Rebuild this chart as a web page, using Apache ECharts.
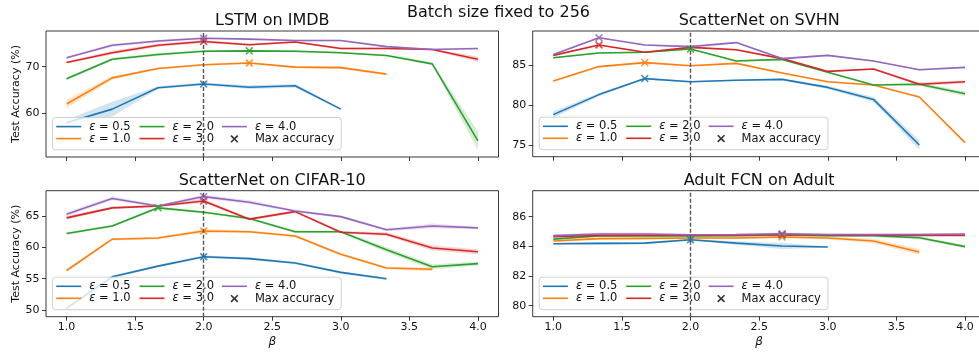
<!DOCTYPE html>
<html>
<head>
<meta charset="utf-8">
<script src="https://cdn.jsdelivr.net/npm/echarts@6/dist/echarts.min.js"></script>
<style>
  html, body { margin: 0; padding: 0; background: #fff; }
  #chart { width: 979px; height: 354px; }
</style>
</head>
<body>
<div id="chart"></div>
<script>
// beta values (x) shared by every panel
const betas = [1.0, 1.333, 1.667, 2.0, 2.333, 2.667, 3.0, 3.333, 3.667, 4.0]
const epsNames = ['ε = 0.5', 'ε = 1.0', 'ε = 2.0', 'ε = 3.0', 'ε = 4.0']
const xTicks = [1.0, 1.5, 2.0, 2.5, 3.0, 3.5, 4.0]
const refBeta = 2.0

// LSTM on IMDB
const imdbAcc = [
  [58.0, 60.9, 65.5, 66.3, 65.6, 65.9, 60.9, null, null, null],
  [62.0, 67.6, 69.6, 70.4, 70.8, 69.9, 69.8, 68.4, null, null],
  [67.4, 71.6, 72.6, 73.3, 73.4, 73.3, 73.0, 72.4, 70.6, 54.1],
  [70.9, 73.0, 74.6, 75.4, 74.7, 75.3, 73.9, 73.9, 73.7, 71.6],
  [71.9, 74.6, 75.5, 76.1, 75.9, 75.6, 75.6, 74.3, 73.7, 73.9]
]
const imdbStd = [
  [0.6, 1.6, 0.3, 0.3, 0.4, 0.4, 0.2],
  [0.9, 0.4, 0.2, 0.2, 0.2, 0.2, 0.3, 0.2],
  [0.3, 0.3, 0.3, 0.2, 0.2, 0.2, 0.2, 0.2, 0.3, 2.0],
  [0.2, 0.4, 0.3, 0.3, 0.2, 0.2, 0.2, 0.2, 0.2, 0.6],
  [0.2, 0.3, 0.3, 0.2, 0.2, 0.2, 0.2, 0.2, 0.2, 0.2]
]
const imdbTicks = [60, 70]

// ScatterNet on SVHN
const svhnAcc = [
  [78.8, 81.3, 83.3, 82.9, 83.1, 83.2, 82.2, 80.7, 75.0, null],
  [83.0, 84.8, 85.3, 84.9, 85.2, 84.0, 82.9, 82.5, 81.0, 75.3],
  [85.9, 86.5, 86.6, 87.0, 85.5, 85.7, 84.1, 82.5, 82.6, 81.4],
  [86.2, 87.5, 86.6, 87.2, 86.9, 85.8, 84.2, 84.5, 82.6, 82.9],
  [86.3, 88.4, 87.5, 87.3, 87.8, 85.8, 86.2, 85.5, 84.4, 84.7]
]
const svhnStd = [
  [0.4, 0.2, 0.1, 0.1, 0.1, 0.1, 0.2, 0.3, 0.6],
  [0.1, 0.1, 0.1, 0.1, 0.1, 0.1, 0.1, 0.1, 0.1, 0.1],
  [0.1, 0.1, 0.1, 0.1, 0.1, 0.1, 0.1, 0.1, 0.2, 0.3],
  [0.1, 0.1, 0.1, 0.1, 0.1, 0.1, 0.1, 0.1, 0.2, 0.2],
  [0.1, 0.1, 0.1, 0.1, 0.1, 0.1, 0.1, 0.1, 0.1, 0.1]
]
const svhnTicks = [75, 80, 85]

// ScatterNet on CIFAR-10
const cifarAcc = [
  [50.3, 55.3, 57.0, 58.5, 58.2, 57.5, 56.0, 55.0, null, null],
  [56.3, 61.3, 61.5, 62.6, 62.5, 61.8, 58.9, 56.7, 56.5, null],
  [62.2, 63.4, 66.3, 65.6, 64.6, 62.5, 62.5, 59.6, 56.9, 57.4],
  [64.7, 66.3, 66.6, 67.4, 64.5, 65.7, 62.4, 62.1, 59.9, 59.3],
  [65.3, 67.8, 66.6, 68.1, 67.2, 65.8, 64.9, 62.8, 63.4, 63.1]
]
const cifarStd = [
  [0.3, 0.2, 0.2, 0.2, 0.2, 0.2, 0.2, 0.2],
  [0.2, 0.2, 0.2, 0.3, 0.2, 0.2, 0.2, 0.2, 0.3],
  [0.2, 0.2, 0.2, 0.2, 0.2, 0.2, 0.2, 0.4, 0.4, 0.3],
  [0.3, 0.2, 0.2, 0.3, 0.2, 0.2, 0.2, 0.3, 0.4, 0.4],
  [0.3, 0.3, 0.2, 0.3, 0.3, 0.2, 0.2, 0.2, 0.4, 0.2]
]
const cifarTicks = [50, 55, 60, 65]

// Adult FCN on Adult
const adultAcc = [
  [84.18, 84.20, 84.22, 84.45, 84.22, 84.02, 83.96, null, null, null],
  [84.36, 84.52, 84.54, 84.56, 84.56, 84.63, 84.56, 84.36, 83.62, null],
  [84.49, 84.70, 84.70, 84.70, 84.72, 84.76, 84.72, 84.72, 84.58, 83.98],
  [84.65, 84.74, 84.75, 84.75, 84.75, 84.80, 84.76, 84.75, 84.74, 84.74],
  [84.72, 84.83, 84.83, 84.78, 84.80, 84.85, 84.80, 84.80, 84.80, 84.83]
]
const adultStd = [
  [0.05, 0.1, 0.08, 0.05, 0.12, 0.2, 0.05],
  [0.08, 0.08, 0.08, 0.08, 0.08, 0.08, 0.1, 0.15, 0.2],
  [0.05, 0.05, 0.05, 0.05, 0.05, 0.05, 0.08, 0.1, 0.1, 0.1],
  [0.05, 0.08, 0.08, 0.05, 0.05, 0.08, 0.08, 0.05, 0.05, 0.05],
  [0.08, 0.1, 0.1, 0.05, 0.05, 0.1, 0.05, 0.05, 0.08, 0.08]
]
const adultTicks = [80, 82, 84, 86]

const colors = ['#1f77b4', '#ff7f0e', '#2ca02c', '#d62728', '#9467bd']
const font = 'DejaVu Sans'
const ink = '#111'
// x marker as a filled cross, so it works as a symbol and as a legend icon
const crossPath = 'path://M0,1.5L1.5,0L5,3.5L8.5,0L10,1.5L6.5,5L10,8.5L8.5,10L5,6.5L1.5,10L0,8.5L3.5,5Z'
const crossIcon = 'path://M-3,-3L-2.99,-3L-3,-2.99ZM13,13L12.99,13L13,12.99ZM0,1.5L1.5,0L5,3.5L8.5,0L10,1.5L6.5,5L10,8.5L8.5,10L5,6.5L1.5,10L0,8.5L3.5,5Z'
const lineIcon = 'path://M0,0L25,0L25,1.6L0,1.6Z'

const panels = [
  { title: 'LSTM on IMDB', acc: imdbAcc, std: imdbStd, ticks: imdbTicks, yMin: 50.64, yMax: 77.65,
    left: 46, top: 31, width: 452.5, height: 126, bottomRow: false, leftCol: true },
  { title: 'ScatterNet on SVHN', acc: svhnAcc, std: svhnStd, ticks: svhnTicks, yMin: 73.54, yMax: 89.25,
    left: 532.7, top: 31, width: 452.9, height: 125.7, bottomRow: false, leftCol: false },
  { title: 'ScatterNet on CIFAR-10', acc: cifarAcc, std: cifarStd, ticks: cifarTicks, yMin: 48.93, yMax: 69.04,
    left: 46, top: 190.7, width: 452.5, height: 126, bottomRow: true, leftCol: true },
  { title: 'Adult FCN on Adult', acc: adultAcc, std: adultStd, ticks: adultTicks, yMin: 79.26, yMax: 87.75,
    left: 532.7, top: 190.7, width: 452.9, height: 126, bottomRow: true, leftCol: false }
]

// draws the whole shaded band once, through the axis scales
function bandRenderer(pts, color) {
  return function (params, api) {
    if (params.dataIndex !== 0) return
    const upper = pts.map(d => api.coord([d[0], d[2]]))
    const lower = pts.map(d => api.coord([d[0], d[1]])).reverse()
    return { type: 'polygon', silent: true, shape: { points: upper.concat(lower) },
      style: { fill: color, opacity: 0.2 } }
  }
}

const grid = [], xAxis = [], yAxis = [], series = [], legend = []
const title = [{
  text: 'Batch size fixed to 256', left: 498.5, top: 5, textAlign: 'center', padding: 0,
  textStyle: { fontFamily: font, fontSize: 16, fontWeight: 'normal', color: ink }
}]

panels.forEach((p, i) => {
  grid.push({ left: p.left, top: p.top, width: p.width, height: p.height, show: true,
    borderColor: '#222', borderWidth: 0.9, backgroundColor: 'transparent', containLabel: false, outerBoundsMode: 'none' })

  title.push({ text: p.title, left: p.left + p.width / 2, top: p.top - 18, textAlign: 'center', padding: 0,
    textStyle: { fontFamily: font, fontSize: 16, fontWeight: 'normal', color: ink } })

  xAxis.push({
    gridIndex: i, type: 'value', min: 0.85, max: 4.15,
    splitLine: { show: false }, axisLine: { show: false },
    axisTick: { show: true, length: 4, customValues: xTicks, lineStyle: { color: '#222', width: 0.9 } },
    axisLabel: { show: p.bottomRow, customValues: xTicks, formatter: v => v.toFixed(1), margin: 5,
      fontFamily: font, fontSize: 11, color: ink },
    name: p.bottomRow ? 'β' : '', nameLocation: 'middle', nameGap: 19,
    nameTextStyle: { fontFamily: font, fontSize: 12, fontStyle: 'italic', color: ink }
  })
  yAxis.push({
    gridIndex: i, type: 'value', min: p.yMin, max: p.yMax,
    splitLine: { show: false }, axisLine: { show: false },
    axisTick: { show: true, length: 4, customValues: p.ticks, lineStyle: { color: '#222', width: 0.9 } },
    axisLabel: { customValues: p.ticks, formatter: v => String(v), margin: 6.5,
      fontFamily: font, fontSize: 11, color: ink },
    name: p.leftCol ? 'Test Accuracy (%)' : '', nameLocation: 'middle', nameGap: 19.5, nameRotate: 90,
    nameTextStyle: { fontFamily: font, fontSize: 11, color: ink }
  })

  // shaded bands first
  p.acc.forEach((row, k) => {
    const sd = p.std[k]
    const pts = betas.map((b, j) => [b, row[j]]).filter(d => d[1] != null)
      .map((d, j) => [d[0], d[1] - sd[j], d[1] + sd[j]])
    series.push({ type: 'custom', name: 'band' + i + k, coordinateSystem: 'cartesian2d',
      xAxisIndex: i, yAxisIndex: i, data: pts, encode: { x: 0, y: [1, 2] }, clip: true, silent: true,
      renderItem: bandRenderer(pts, colors[k]) })
  })

  const maxPts = []
  p.acc.forEach((row, k) => {
    const pts = betas.map((b, j) => [b, row[j]]).filter(d => d[1] != null)
    let best = pts[0]
    pts.forEach(d => { if (d[1] > best[1]) best = d })
    maxPts.push({ value: best, itemStyle: { color: colors[k] } })
    const s = { type: 'line', name: epsNames[k], xAxisIndex: i, yAxisIndex: i, data: pts, z: 3,
      symbol: 'none', lineStyle: { color: colors[k], width: 1.6 }, itemStyle: { color: colors[k] } }
    if (k === 4) {
      s.markLine = { silent: true, symbol: 'none', label: { show: false },
        lineStyle: { type: [4, 2], color: '#555', width: 1.4 }, data: [{ xAxis: refBeta }] }
    }
    series.push(s)
  })
  series.push({ type: 'scatter', name: 'Max accuracy', xAxisIndex: i, yAxisIndex: i, data: maxPts, z: 3,
    symbol: crossPath, symbolSize: 8, itemStyle: { color: '#000' } })

  // legend: 3 columns, the last one also carries the semi-transparent frame
  const boxLeft = p.left + 6.5
  const boxTop = p.top + p.height - 6.5 - 33
  const legendText = { fontFamily: font, fontSize: 11.5, color: ink, padding: [0, 0, 0, 3],
    rich: { i: { fontFamily: font, fontSize: 11.5, fontStyle: 'italic', color: ink } } }
  const base = { orient: 'vertical', itemWidth: 25, itemHeight: 12.6, itemGap: 0, selectedMode: false,
    formatter: n => n.replace('ε', '{i|ε}'), textStyle: legendText }
  legend.push(Object.assign({}, base, {
    left: boxLeft, top: boxTop, z: 5, padding: [3.1, 7, 4.7, 169.4],
    backgroundColor: 'rgba(255,255,255,0.8)', borderColor: '#cccccc', borderWidth: 0.9, borderRadius: 3,
    data: [{ name: epsNames[4], icon: lineIcon }, { name: 'Max accuracy', icon: crossIcon }]
  }))
  legend.push(Object.assign({}, base, { left: boxLeft + 3.7, top: boxTop + 3.1, padding: 0, z: 6,
    data: [{ name: epsNames[0], icon: lineIcon }, { name: epsNames[1], icon: lineIcon }] }))
  legend.push(Object.assign({}, base, { left: boxLeft + 87, top: boxTop + 3.1, padding: 0, z: 6,
    data: [{ name: epsNames[2], icon: lineIcon }, { name: epsNames[3], icon: lineIcon }] }))
})

const myChart = echarts.init(document.getElementById('chart'))
myChart.setOption({ animation: false, backgroundColor: '#fff', title, grid, xAxis, yAxis, legend, series })
</script>
</body>
</html>
